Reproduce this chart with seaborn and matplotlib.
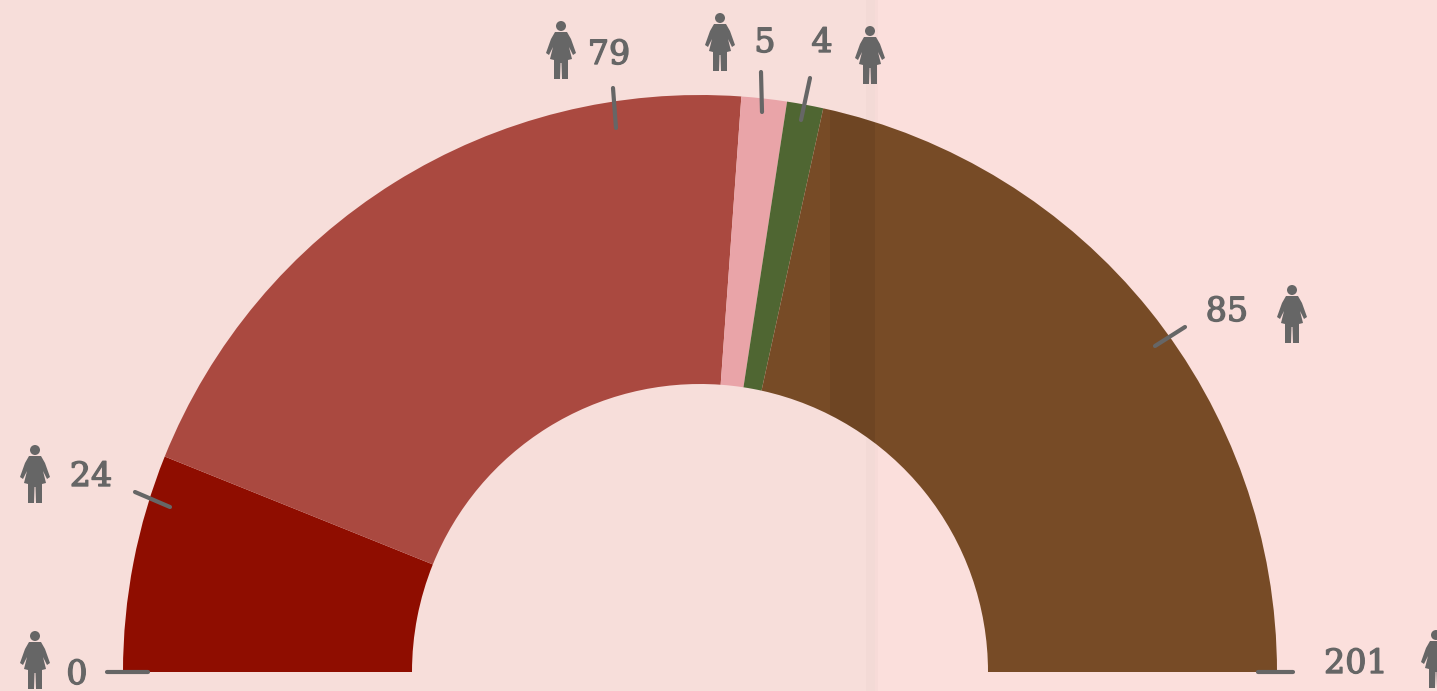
import matplotlib
matplotlib.use('Agg')
import matplotlib.pyplot as plt
import matplotlib.patheffects as pe
import seaborn as sns
from matplotlib.patches import Circle, Polygon, Rectangle

# seats per group, left to right
seats = [24, 79, 5, 4, 85]
colours = ['#8f0d00', '#aa4940', '#e9a4a8', '#4f6632', '#774b26']
labels = ['0', '24', '79', '5', '4', '85', '201']

# layout, in image pixels (y measured from the top)
H = 691
label_xy = [(77, 675), (91, 477), (609, 55), (765, 43), (822, 43), (1227, 312), (1356, 664)]
person_xy = [(35, 660), (35, 474), (561, 50), (720, 42), (870, 55), (1292, 314), (1436, 659)]
tick_xy = [((107, 672), (148, 672)), ((135, 492), (170, 507)), ((613, 88), (616, 128)),
           ((761, 72), (762, 112)), ((810, 78), (801, 120)), ((1185, 327), (1155, 346)),
           ((1258, 672), (1293, 672))]
grey = '#666666'

sns.set_theme(style='white')
plt.rcParams['font.family'] = ['DejaVu Serif']

fig = plt.figure(figsize=(14.37, 6.91), dpi=100)
ax = fig.add_axes([0, 0, 1, 1])
ax.set_facecolor('#fbdfdc')

# the other half of the pie is left empty
wedges, _ = ax.pie(seats + [sum(seats)], colors=sns.color_palette(colours) + ['none'],
                   center=(700, H - 672), radius=577, startangle=180, counterclock=False,
                   wedgeprops={'width': 289, 'linewidth': 0}, frame=True)
ax.set_xlim(0, 1437)
ax.set_ylim(0, H)
ax.set_aspect('auto')
ax.set_xticks([])
ax.set_yticks([])
for s in ax.spines.values():
    s.set_visible(False)

# paper fold, darker just left of the crease
ax.axvspan(0, 875, color='#eeddd6', alpha=0.3, lw=0, zorder=0.5)
ax.axvspan(866, 878, color='#c9b5b0', alpha=0.08, lw=0, zorder=0.6)
shade = Rectangle((830, 0), 45, H, color='black', alpha=0.07, lw=0, zorder=3)
ax.add_patch(shade)
shade.set_clip_path(wedges[4])


def person(x, y):
    # y is the middle of the figure in image pixels
    y = H - y
    ax.add_patch(Circle((x, y + 24), 5, color=grey, lw=0, zorder=5))
    body = [(x - 6, y + 18), (x + 6, y + 18), (x + 10, y + 11), (x + 15, y - 3), (x + 12, y - 5), (x + 8, y + 3),
            (x + 11, y - 9), (x + 7, y - 10), (x + 7, y - 29), (x + 1, y - 29), (x + 0.5, y - 13), (x - 0.5, y - 13),
            (x - 1, y - 29), (x - 7, y - 29), (x - 7, y - 10), (x - 11, y - 9), (x - 8, y + 3), (x - 12, y - 5),
            (x - 15, y - 3), (x - 10, y + 11)]
    ax.add_patch(Polygon(body, closed=True, color=grey, lw=0, zorder=5))


for lab, (x, y) in zip(labels, label_xy):
    ax.text(x, H - y, lab, ha='center', va='center', fontsize=24, color=grey, zorder=6,
            path_effects=[pe.withStroke(linewidth=1.0, foreground=grey)])
for x, y in person_xy:
    person(x, y)
for (x0, y0), (x1, y1) in tick_xy:
    ax.plot([x0, x1], [H - y0, H - y1], color=grey, lw=3, solid_capstyle='round', zorder=5)

fig.savefig('out.png', dpi=100)
